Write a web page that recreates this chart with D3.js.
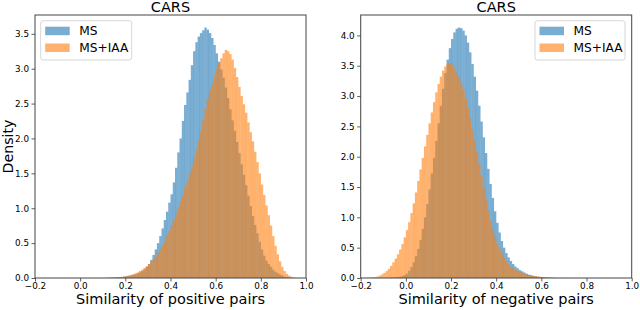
<!DOCTYPE html>
<html><head><meta charset="utf-8">
<script src="https://cdn.jsdelivr.net/npm/d3@7"></script>
<style>body{margin:0;background:#fff}svg{display:block}</style>
</head><body>
<svg id="c" width="640" height="310"></svg>
<script>
// ---------- data ----------
const binWidth = 0.01;
const xTicks = [-0.2, 0.0, 0.2, 0.4, 0.6, 0.8, 1.0];
const seriesNames = ["MS", "MS+IAA"];
const titles = ["CARS", "CARS"];
const xLabels = ["Similarity of positive pairs", "Similarity of negative pairs"];
const yLabel = "Density";

// positive pairs, bins start at 0.10
const posStart = 0.10;
const posMS = [0.000,0.000,0.003,0.004,0.005,0.007,0.009,0.012,0.015,0.020,
  0.025,0.030,0.037,0.045,0.055,0.066,0.080,0.100,0.125,0.160,
  0.200,0.260,0.330,0.410,0.500,0.600,0.710,0.830,0.950,1.080,
  1.200,1.370,1.580,1.800,2.000,2.250,2.480,2.660,2.840,3.050,
  3.250,3.380,3.460,3.510,3.550,3.590,3.560,3.510,3.440,3.340,
  3.220,3.100,2.990,2.870,2.730,2.580,2.420,2.260,2.110,1.950,
  1.790,1.630,1.480,1.330,1.180,1.030,0.890,0.760,0.640,0.520,
  0.410,0.320,0.250,0.200,0.160,0.120,0.090,0.070,0.050,0.035,
  0.020,0.010,0.005,0.002];
const posIAA = [0.001,0.002,0.003,0.004,0.005,0.007,0.010,0.013,0.017,0.022,
  0.028,0.035,0.044,0.054,0.066,0.080,0.100,0.120,0.145,0.170,
  0.200,0.235,0.270,0.310,0.360,0.410,0.470,0.530,0.600,0.670,
  0.750,0.830,0.920,1.010,1.100,1.190,1.290,1.390,1.490,1.600,
  1.720,1.840,1.960,2.100,2.260,2.430,2.570,2.690,2.790,2.890,
  2.980,3.070,3.150,3.220,3.270,3.250,3.210,3.130,3.010,2.880,
  2.740,2.610,2.490,2.370,2.230,2.090,1.960,1.810,1.660,1.500,
  1.340,1.190,1.040,0.900,0.750,0.600,0.460,0.340,0.240,0.160,
  0.100,0.060,0.035,0.018,0.007,0.002];

// negative pairs
const negMSStart = -0.10;
const negMS = [0.001,0.002,0.003,0.004,0.006,0.009,0.014,0.021,0.032,0.048,
  0.070,0.120,0.180,0.260,0.360,0.480,0.630,0.810,1.000,1.220,
  1.460,1.720,1.980,2.260,2.550,2.840,3.120,3.380,3.600,3.790,
  3.940,4.050,4.110,4.130,4.120,4.080,4.000,3.880,3.720,3.530,
  3.320,3.090,2.840,2.580,2.320,2.060,1.800,1.550,1.320,1.100,
  0.910,0.750,0.610,0.500,0.410,0.340,0.280,0.230,0.190,0.160,
  0.130,0.110,0.090,0.070,0.055,0.045,0.035,0.028,0.022,0.017,
  0.013,0.010,0.007,0.005,0.003,0.002];
const negIAAStart = -0.18;
const negIAA = [0.002,0.003,0.006,0.010,0.016,0.025,0.040,0.060,0.085,0.115,
  0.150,0.200,0.260,0.320,0.390,0.470,0.560,0.670,0.790,0.920,
  1.070,1.230,1.410,1.600,1.790,1.980,2.170,2.360,2.550,2.730,
  2.900,3.060,3.200,3.320,3.420,3.490,3.530,3.540,3.520,3.470,
  3.390,3.310,3.220,3.100,2.960,2.800,2.630,2.450,2.270,2.080,
  1.880,1.680,1.480,1.290,1.110,0.950,0.810,0.680,0.570,0.480,
  0.400,0.330,0.280,0.230,0.190,0.160,0.140,0.120,0.100,0.085,
  0.072,0.060,0.050,0.042,0.035,0.029,0.024,0.019,0.015,0.012,
  0.009,0.007,0.005,0.004,0.003,0.002,0.002,0.001,0.001];

// ---------- drawing ----------
const colors = ["#1f77b4", "#ff7f0e"];
const alpha = 0.6;
const svg = d3.select("#c");
const font = "DejaVu Sans, sans-serif";

const panels = [
  {x0: 35, x1: 306, series: [{start: posStart, vals: posMS}, {start: posStart, vals: posIAA}],
   legendX: 40.7, ylabel: true},
  {x0: 360.7, x1: 631.7, series: [{start: negMSStart, vals: negMS}, {start: negIAAStart, vals: negIAA}],
   legendX: 535, ylabel: false}
];
const yTop = 15, yBot = 278;

panels.forEach((p, pi) => {
  const g = svg.append("g");
  const x = d3.scaleLinear().domain([-0.2, 1.0]).range([p.x0, p.x1]);
  const ymax = d3.max(p.series, s => d3.max(s.vals)) * 1.05;
  const y = d3.scaleLinear().domain([0, ymax]).range([yBot, yTop]);

  p.series.forEach((s, si) => {
    const bins = s.vals.map((v, i) => ({a: s.start + i * binWidth, v}));
    g.append("g").selectAll("rect").data(bins).join("rect")
      .attr("x", d => x(d.a))
      .attr("width", d => x(d.a + binWidth) - x(d.a) + 0.12)
      .attr("y", d => y(d.v))
      .attr("height", d => y(0) - y(d.v))
      .attr("fill", colors[si])
      .attr("fill-opacity", alpha);
  });

  // axes
  const xa = d3.axisBottom(x).tickValues(xTicks).tickSize(3.5).tickPadding(1.2)
    .tickFormat(d => d3.format(".1f")(d).replace("-", "\u2212"));
  const gx = g.append("g").attr("transform", `translate(0,${yBot})`).call(xa);
  const yTicks = d3.range(0, ymax, 0.5);
  const ya = d3.axisLeft(y).tickValues(yTicks).tickSize(3.5).tickPadding(2.5).tickFormat(d3.format(".1f"));
  const gy = g.append("g").attr("transform", `translate(${p.x0},0)`).call(ya);
  [gx, gy].forEach(a => {
    a.select(".domain").remove();
    a.selectAll("line").attr("stroke", "#333").attr("stroke-width", 0.8);
    a.selectAll("text").attr("font-family", font).attr("font-size", 8.8).attr("fill", "#000");
  });

  // frame
  g.append("rect").attr("x", p.x0).attr("y", yTop).attr("width", p.x1 - p.x0).attr("height", yBot - yTop)
    .attr("fill", "none").attr("stroke", "#444").attr("stroke-width", 1);

  // title
  g.append("text").attr("x", (p.x0 + p.x1) / 2).attr("y", 12.3).attr("text-anchor", "middle")
    .attr("font-family", font).attr("font-size", 14.5).text(titles[pi]);
  // x label
  g.append("text").attr("x", (p.x0 + p.x1) / 2).attr("y", 304).attr("text-anchor", "middle")
    .attr("font-family", font).attr("font-size", 14.5).text(xLabels[pi]);
  if (p.ylabel) {
    g.append("text").attr("transform", `translate(12.5,${(yTop + yBot) / 2}) rotate(-90)`)
      .attr("text-anchor", "middle").attr("font-family", font).attr("font-size", 14.2).text(yLabel);
  }

  // legend
  const lx = p.legendX, lw = (pi === 0 ? 91 : 90);
  const lg = g.append("g");
  lg.append("rect").attr("x", lx).attr("y", 20.7).attr("width", lw).attr("height", 39.3)
    .attr("rx", 2.5).attr("fill", "#fff").attr("fill-opacity", 0.8).attr("stroke", "#ccc").attr("stroke-width", 0.8);
  seriesNames.forEach((n, i) => {
    const yy = 26.7 + i * 16.8;
    lg.append("rect").attr("x", lx + 4.5).attr("y", yy).attr("width", 24.5).attr("height", 8.5)
      .attr("fill", colors[i]).attr("fill-opacity", alpha);
    lg.append("text").attr("x", lx + 38.5).attr("y", yy + 8.6).attr("font-family", font)
      .attr("font-size", 12.2).text(n);
  });
});
</script>
</body></html>
